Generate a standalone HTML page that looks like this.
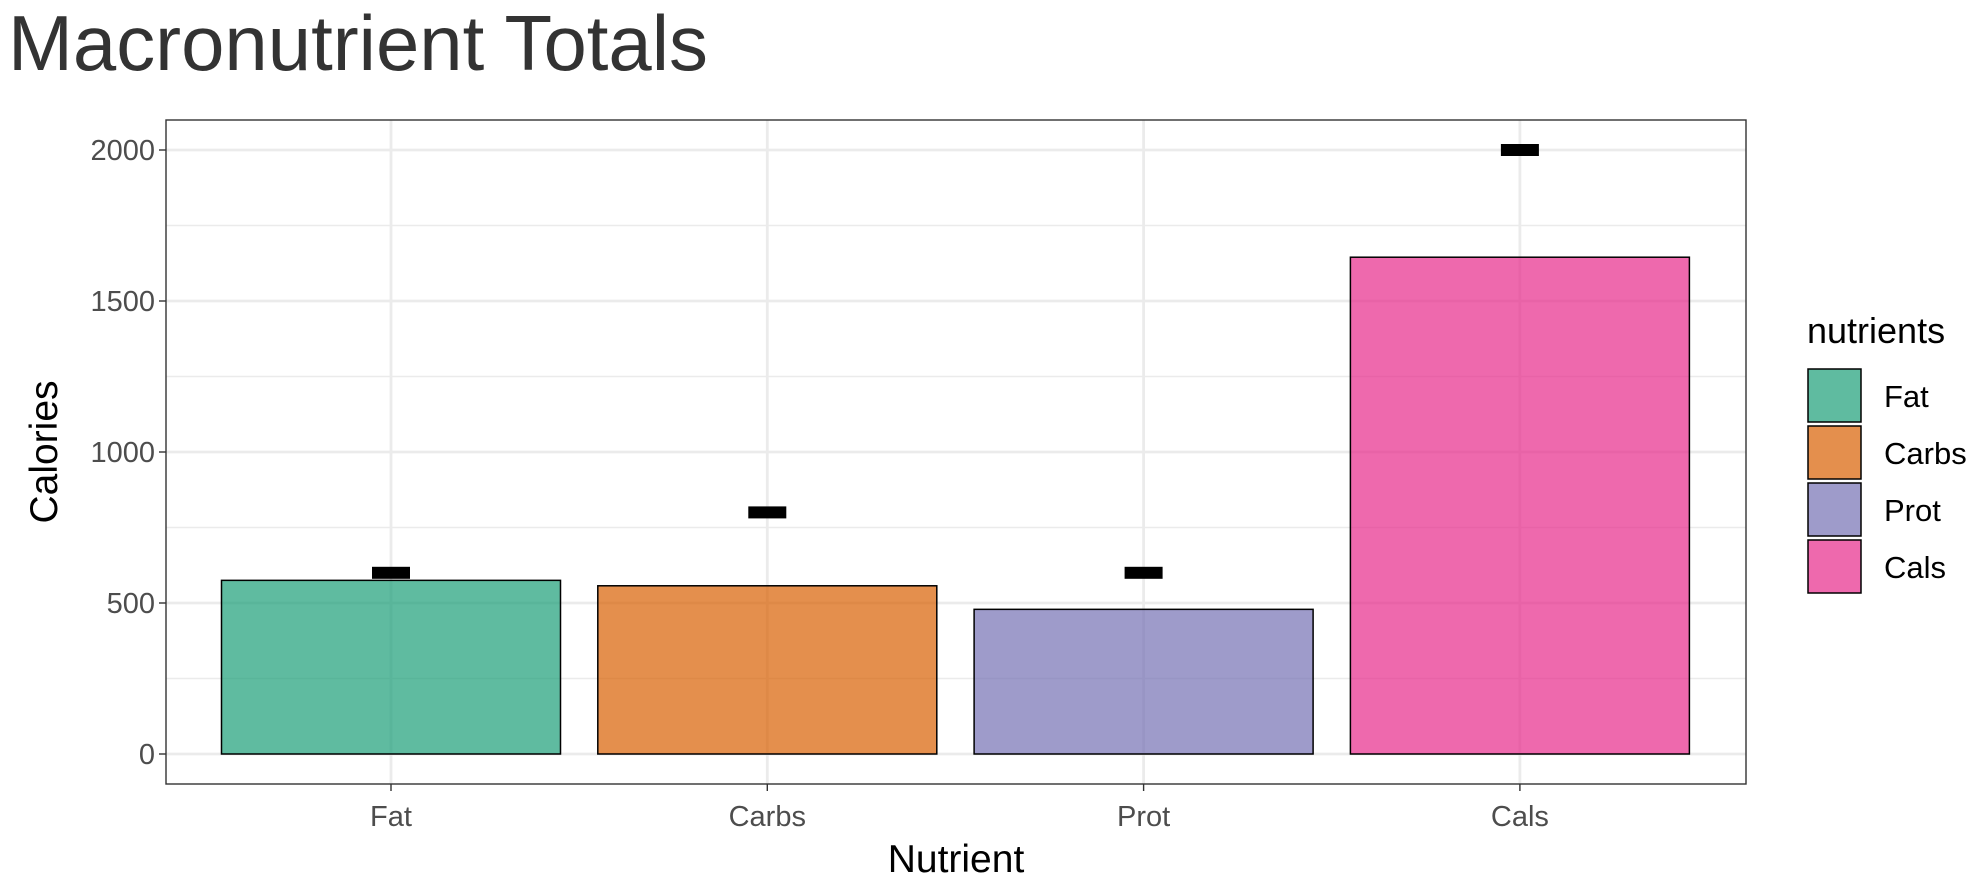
<!DOCTYPE html>
<html><head><meta charset="utf-8"><style>
body{margin:0;background:#fff;width:1988px;height:886px;overflow:hidden}
svg text{font-family:"Liberation Sans",sans-serif}
</style></head><body>
<svg id="chart" width="1988" height="886">
<text x="8" y="70" font-size="78" fill="#333" textLength="700" lengthAdjust="spacingAndGlyphs">Macronutrient Totals</text>
<g id="plot"></g>
</svg>
<script>
const categories=["Fat","Carbs","Prot","Cals"];
const values=[575,557,479,1645];
const targets=[600,800,600,2000];
const colors=["#1b9e77","#d95f02","#7570b3","#e7298a"];
const yTicks=[0,500,1000,1500,2000];
const L=166,R=1746,T=120,B=784;
const y0=754,yPer=(754-150)/2000;
const y=v=>y0-v*yPer;
const band=376.3,x=i=>391+i*band;
const ns="http://www.w3.org/2000/svg";
const g=document.getElementById('plot');
function el(t,a,p){const e=document.createElementNS(ns,t);for(const k in a)e.setAttribute(k,a[k]);(p||g).appendChild(e);return e;}
let bg=el('rect',{x:L,y:T,width:R-L,height:B-T,fill:'#fff'});


for(let i=0;i<yTicks.length-1;i++){const v=(yTicks[i]+yTicks[i+1])/2;let m=el('line',{x1:L,x2:R,y1:y(v),y2:y(v),stroke:'#ebebeb','stroke-width':1.4});

}
yTicks.forEach(v=>{let l=el('line',{x1:L,x2:R,y1:y(v),y2:y(v),stroke:'#ebebeb','stroke-width':2.8});


let tk=el('line',{x1:L-7,x2:L,y1:y(v),y2:y(v),stroke:'#333','stroke-width':1.4});


let t=el('text',{x:L-11,y:y(v)+10,'text-anchor':'end','font-size':29,fill:'#4d4d4d'});t.textContent=v;

});
categories.forEach((c,i)=>{let l=el('line',{x1:x(i),x2:x(i),y1:T,y2:B,stroke:'#ebebeb','stroke-width':2.8});

});
categories.forEach((c,i)=>{const w=339;
let r=el('rect',{x:x(i)-w/2,y:y(values[i]),width:w,height:y(0)-y(values[i]),fill:colors[i],'fill-opacity':0.7,stroke:'#000','stroke-width':1.5});


let m=el('rect',{x:x(i)-19,y:y(targets[i])-6,width:38,height:12,fill:'#000'});


let tk=el('line',{x1:x(i),x2:x(i),y1:B,y2:B+7,stroke:'#333','stroke-width':1.4});


let t=el('text',{x:x(i),y:826,'text-anchor':'middle','font-size':29,fill:'#4d4d4d'});t.textContent=c;


let k=el('rect',{x:1808,y:369+i*57,width:53,height:53,fill:colors[i],'fill-opacity':0.7,stroke:'#000','stroke-width':1.5});


let lt=el('text',{x:1884,y:407+i*57,'font-size':31,fill:'#000'});lt.textContent=c;

});
let fr=el('rect',{x:L,y:T,width:R-L,height:B-T,fill:'none',stroke:'#333','stroke-width':1.4});


let xt=el('text',{x:956,y:872,'text-anchor':'middle','font-size':39,fill:'#000'});xt.textContent='Nutrient';


let yt=el('text',{x:0,y:0,'text-anchor':'middle','font-size':39,fill:'#000',transform:'translate(57,452) rotate(-90)'});yt.textContent='Calories';


let lg=el('text',{x:1807,y:343,'font-size':36,fill:'#000'});lg.textContent='nutrients';


</script>
</body></html>
